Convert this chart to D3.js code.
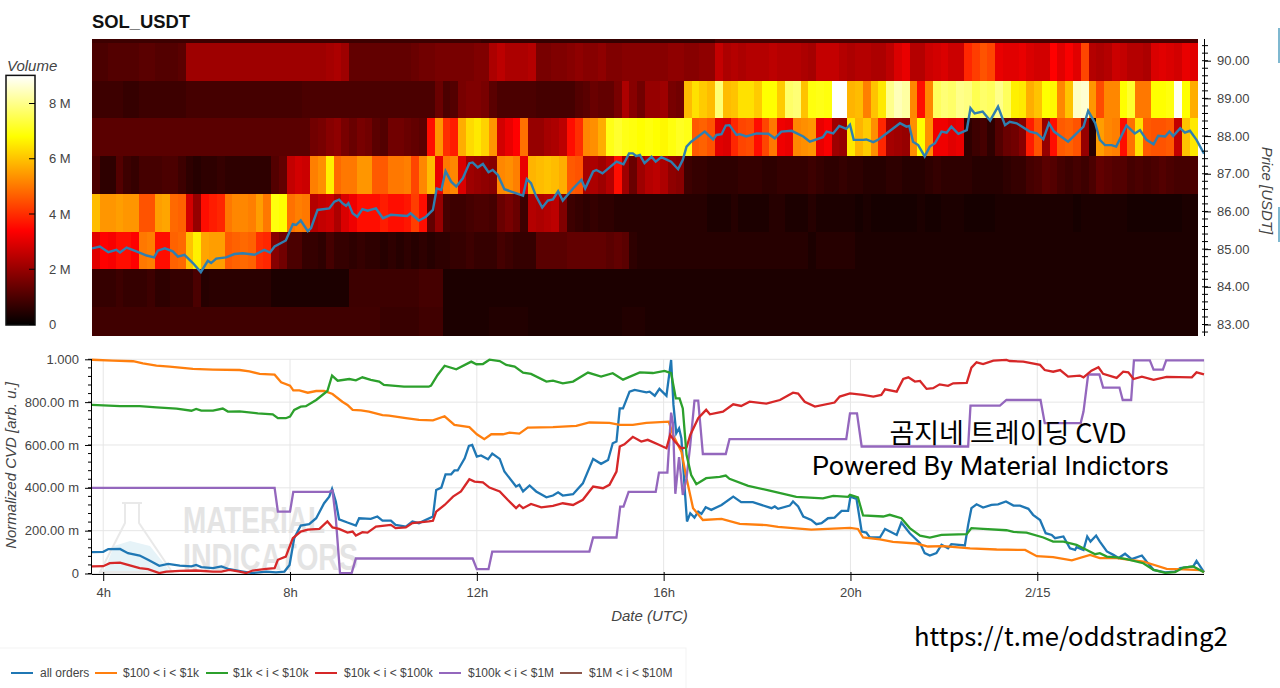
<!DOCTYPE html>
<html>
<head>
<meta charset="utf-8">
<script src="https://cdn.jsdelivr.net/npm/d3@7"></script>
<style>
  html, body { margin: 0; padding: 0; background: #fff; overflow: hidden; }
  text { font-family: "Liberation Sans", sans-serif; fill: #444; }
  .note { font-family: "Noto Sans CJK KR", sans-serif; fill: #000; }
</style>
</head>
<body>
<svg id="chart" width="1280" height="688"></svg>
<script>
// volume per 10 min column, one list per price bin [M]
const vol91 = [.8,.8,.8,.8,.8,.8,.8,.8,.8,.8,.8,.8,.8,.8,.8,.8,.8,.8,.8,.8,.8,.8,.8,.8,.8,.8,.8,.8,.8,.8,.8,.8,.8,.8,.8,.8,.8,.8,.8,.8,.8,.8,.8,.8,.8,.8,.8,.8,.8,.8,.7,.7,.7,.7,.7,.7,.7,.7,.7,.7,.7,.7,.7,.7,.7,.7,.7,.7,.7,.7,.7,.7,.7,.7,.7,.7,.7,.7,.7,.7,1,1,1,1,1,1,1,1,1,1,1,1,1,1,1,1,1,1,1,1,1,1,1,1,1,1,1,1,1,1,1,1,1,1,1,1,1,1,1,1,1,1,1,1,1,1,1,1,1,1,1,1,1,1,1,1,1,1,1,1,1,1];
const vol90 = [1.0,1.0,1.1,1.1,1.1,1.1,1.2,1.2,1.1,1.1,
  1.1,1.2,2.1,2.1,2.1,2.1,2.1,2.1,2.1,2.1,
  2.1,2.1,2.1,2.1,2.1,2.1,2.1,2.1,2.1,2.1,
  2.2,2.3,2.1,1.3,1.3,1.3,1.3,1.3,1.3,1.3,
  1.3,1.4,1.5,1.5,1.6,1.6,1.6,1.6,1.6,1.7,
  1.7,2.3,2.5,2.3,2.3,2.3,2.4,1.6,1.6,1.7,
  1.7,1.8,1.9,1.8,1.8,1.9,1.7,1.7,1.8,1.8,
  1.8,1.8,1.8,1.8,1.9,1.9,1.8,1.8,1.9,1.9,
  2.6,2.3,2.4,2.3,2.4,2.4,2.4,2.5,2.4,2.4,
  2.4,2.3,2.2,2.6,2.6,2.6,2.4,2.3,2.4,2.4,
  2.3,2.3,2.5,2.9,3.1,2.4,2.4,2.7,2.8,2.9,
  2.7,2.7,3.9,4.2,4.5,4.3,3.1,3.0,3.0,3.1,
  2.9,2.8,2.8,3.4,3.0,3.3,3.0,4.3,2.4,2.3,
  2.4,2.7,2.6,2.4,2.4,2.3,2.9,3.0,2.9,2.8,3.1,3.0];
const vol89 = [.8,.8,.8,.8,.7,.7,.8,.8,.8,.8,
  .8,.8,.9,.9,.9,.9,.9,.9,.9,.9,
  .9,.9,.9,.9,.9,.9,.9,1,1,1,
  1,1,1,1,1,1,1,1,1,1,
  1,1,1,1,1.4,1,1.1,1.6,1.7,1.7,
  1.6,1.2,1,1,1,1,1,.9,.9,.9,
  .9,.9,1.1,1.2,1.4,1.3,1.3,1.6,2.3,1.8,
  1.5,2,2,2.1,1.6,1.5,5.9,6.4,6.1,5.9,
  7.8,5.9,6,6.4,6.4,6.1,6.8,6.8,6.1,7.7,
  7.8,6,6.9,7,6.9,9,9,5.8,5.9,5.1,
  6,6.5,8,8.4,8.2,5.2,3.6,5.2,7.6,7.8,
  7.7,8,7.9,7.5,7.7,7.6,8,7.6,6.6,6.5,
  5.7,6,6.8,6.7,5.2,6,8.5,8.6,5.4,4.4,
  5.2,5.2,6.8,7.2,5,5,6.8,6.8,6.9,8.9,6.8,5.7];
const vol88 = [1.2,1.2,1.2,1.2,1.2,1.2,1.2,1.2,1.2,1.2,
  1.2,1.2,1.2,1.2,1.2,1.2,1.2,1.2,1.2,1.2,
  1.2,1.2,1.2,1.2,1.2,1.2,1.2,1.2,1.5,1.6,
  1.8,1.9,1.6,1.4,1.6,1.5,1.2,1.1,1.5,1.5,
  1.4,1.3,1.2,3.5,5.4,4,3.8,5.7,6.3,6.5,
  6.2,5.4,2.8,3.1,3.4,4.9,2,2,2.2,2.3,
  2.5,3.5,4,5.2,5.3,5.7,7,7.2,7,6.9,
  6.8,6.9,6.8,6.7,6.9,7.1,7,4.6,4.7,4.5,
  3,2.9,3.9,4.3,4.4,3.6,4.3,5,3.2,3.1,
  5.2,5.3,5.4,3.1,3.3,2.1,2,6.5,5.8,6.1,
  5.3,3.9,2.2,2.1,2,5.3,6.8,5.3,3.2,3.2,
  3,3.1,.6,.8,.9,.6,1.1,1.4,1.5,1.8,
  3.8,4.5,2,3.5,4.6,4.7,4.5,2,.5,5.5,
  5.2,5.1,3.5,4.9,6.4,4.6,4.5,4.5,4.6,2.6,6,6.5];
const vol87 = [1,.6,.6,1.1,.8,.7,.9,.9,.9,1,
  1,.8,.6,.5,.6,.6,.7,.6,.6,.6,
  .6,.6,.6,1.1,1.3,2.6,2.8,2.7,5.1,5.3,
  6.6,4.8,5,5,5.4,5.4,4.6,4.6,5,5,
  5.1,4.3,5.2,5.9,3.1,5,5.2,2.9,2.1,2,
  1.9,1.8,5.2,5.3,5.1,3.1,5.8,5.9,6,5.9,
  5.7,4.6,4.5,2.2,2.3,2.1,2.4,3.6,2.1,1.4,
  2.1,2.4,2.5,2.3,1.9,1.8,.8,.7,.7,.6,
  .6,.6,.6,.7,.7,.7,.6,.6,.7,.7,
  .7,.7,.8,.7,.6,.6,.7,.6,.6,.5,
  .5,.5,.6,.6,.5,.5,.5,.6,.7,.6,
  .6,.6,.6,.5,.5,.5,.5,.6,.7,.7,
  .9,1,1.2,1.1,.9,.8,.9,.8,1,1.3,
  1.2,1.1,1.1,.9,1,.9,1,1.1,1,.9,.9,1];
const vol86 = [5.9,5.4,5.4,5.5,5.4,5.4,4.5,4.5,5.5,5.6,
  4.8,4.7,2.8,2,3.6,3.8,3.9,5,5.2,5.2,
  5.1,5.5,5,6.9,6.8,4.9,5.1,5,2.4,2.6,
  2.7,2.3,2.9,3.2,3.5,3.6,3.5,3.8,3.6,3.5,
  3.7,4.2,3.5,1.3,2,.9,.8,.8,.9,1,
  1,.9,1.4,1.6,1.4,.8,2.4,2.3,2.4,2.5,
  1.7,.8,.7,.6,.7,.6,.6,.5,.5,.5,
  .5,.5,.5,.5,.5,.5,.5,.5,.5,.4,
  .4,.4,.5,.4,.4,.4,.4,.5,.5,.4,
  .4,.4,.5,.4,.4,.4,.4,.4,.3,.4,
  .3,.3,.3,.3,.3,.3,.4,.3,.3,.4,
  .4,.4,.3,.3,.3,.3,.4,.4,.4,.4,
  .4,.4,.4,.4,.4,.4,.3,.4,.4,.4,
  .4,.4,.4,.3,.3,.3,.3,.3,.3,.3,.4,.4];
const vol85 = [3,3.4,3.3,3.5,3.5,3.4,5,5.1,3.6,3.5,
  4.7,4.8,6,6.6,5.6,5.5,5.5,4.6,4.7,4.8,
  4.7,4,3.9,1.8,1.5,1,1,.7,.7,.6,
  .9,.7,.7,.6,.7,.6,.6,.5,.6,.5,
  .6,.5,.6,.5,.6,.6,.7,.7,.8,.7,
  .7,.7,.9,.8,.7,.7,.7,1.2,1.2,1.2,
  1.2,1.3,1.3,1.3,1.3,1.3,1.2,1.3,1.2,.6,
  .5,.5,.5,.5,.5,.5,.5,.5,.5,.5,
  .5,.5,.5,.5,.5,.5,.5,.5,.5,.5,
  .5,.5,.4,.5,.5,.5,.5,.5,.4,.4,
  .4,.4,.4,.4,.4,.4,.4,.4,.4,.4,
  .4,.4,.4,.4,.4,.4,.4,.4,.4,.4,
  .4,.4,.4,.4,.4,.4,.4,.4,.4,.4,
  .4,.4,.4,.4,.4,.4,.4,.4,.4,.4,.4,.4];
const vol84 = [.7,.7,.7,.8,.7,.7,.7,.8,.6,.6,
  .7,.7,.7,1,.5,.55,.55,.55,.55,.55,
  .55,.55,.55,.35,.35,.35,.35,.35,.35,.35,
  .35,.35,.35,.8,.8,.8,.8,.8,.8,.8,
  .8,.8,.9,.9,.9,.4,.4,.4,.4,.4,
  .4,.4,.4,.4,.4,.4,.4,.4,.4,.4,
  .4,.4,.4,.4,.4,.4,.4,.4,.4,.4,
  .4,.4,.4,.4,.4,.4,.4,.4,.4,.4,
  .4,.4,.4,.4,.4,.4,.4,.4,.4,.4,
  .4,.4,.4,.4,.4,.4,.4,.4,.4,.4,
  .4,.4,.4,.4,.4,.4,.4,.4,.4,.4,
  .4,.4,.4,.4,.4,.4,.4,.4,.4,.4,
  .4,.4,.4,.4,.4,.4,.4,.4,.4,.4,
  .4,.4,.4,.4,.4,.4,.4,.4,.4,.4,.4,.4];
const vol83 = [.85,.85,.85,.85,.85,.85,.85,.85,.85,.85,
  .85,.85,.85,.85,.85,.85,.85,.85,.85,.85,
  .85,.85,.85,.85,.85,.85,.85,.85,.85,.85,
  .85,.85,.85,.85,.85,.85,.85,.75,.75,.75,
  .75,.75,.85,.85,.85,.4,.4,.4,.4,.4,
  .4,.45,.45,.45,.45,.45,.4,.4,.4,.4,
  .4,.4,.4,.4,.4,.4,.4,.4,.45,.45,
  .45,.4,.4,.4,.4,.4,.4,.4,.4,.4,
  .4,.4,.4,.4,.4,.4,.4,.4,.4,.4,
  .4,.4,.4,.4,.4,.35,.35,.35,.35,.35,
  .35,.35,.35,.35,.35,.35,.35,.35,.35,.35,
  .35,.35,.35,.35,.35,.35,.35,.35,.35,.35,
  .35,.35,.35,.35,.35,.35,.35,.35,.35,.35,
  .35,.35,.35,.35,.35,.35,.35,.35,.35,.35,.35,.35];
const volRows = [vol83, vol84, vol85, vol86, vol87, vol88, vol89, vol90, vol91];
const binFloors = [82.48, 83.48, 84.48, 85.48, 86.48, 87.48, 88.48, 89.48, 90.48];

// price line: hours since 2/14 00:00 and USDT
const priceHours = [3.76,3.93,4.11,4.28,4.36,4.5,4.71,4.93,5.09,5.17,5.32,5.49,5.6,5.74,5.92,6.09,6.24,6.31,6.42,6.63,6.81,6.99,7.24,7.45,7.57,7.67,7.91,8.06,8.13,8.23,8.38,8.45,8.59,8.84,8.95,9.05,9.12,9.2,9.25,9.34,9.44,9.55,9.66,9.84,9.99,10.16,10.51,10.58,10.76,10.91,11.06,11.14,11.24,11.33,11.45,11.56,11.7,11.84,11.91,12.02,12.13,12.25,12.34,12.45,12.59,12.99,13.07,13.16,13.27,13.4,13.52,13.63,13.74,13.84,14.06,14.24,14.32,14.49,14.56,14.69,14.99,15.14,15.26,15.34,15.41,15.49,15.59,15.74,15.83,15.95,16.16,16.31,16.41,16.49,16.59,16.88,17.06,17.13,17.24,17.33,17.41,17.56,17.63,17.77,17.99,18.24,18.38,18.52,18.74,18.99,19.13,19.41,19.49,19.63,19.76,19.91,19.99,20.07,20.27,20.34,20.49,20.59,20.77,21.06,21.2,21.26,21.34,21.45,21.59,21.7,21.81,21.95,22.06,22.16,22.31,22.49,22.57,22.66,22.83,22.99,23.16,23.31,23.41,23.56,23.84,23.99,24.13,24.25,24.36,24.66,24.99,25.09,25.24,25.34,25.45,25.59,25.69,25.91,26.09,26.2,26.34,26.49,26.59,26.74,26.83,26.91,27.06,27.16,27.27,27.41,27.57];
const priceValues = [85.02,85.07,84.92,84.98,84.91,85.04,84.94,84.83,84.78,84.96,85.02,84.94,84.8,84.85,84.63,84.39,84.69,84.63,84.75,84.78,84.87,84.89,84.85,84.98,84.91,85.07,85.23,85.66,85.64,85.76,85.48,85.56,86.04,86.08,86.26,86.31,86.22,86.15,86.22,85.95,85.86,86.06,86.02,86.08,85.82,85.91,85.88,85.95,85.76,85.86,86.04,86.61,86.57,87.07,86.79,86.66,86.88,87.28,87.3,87.17,87.26,87.04,87.1,86.97,86.59,86.42,86.86,86.75,86.4,86.1,86.29,86.32,86.54,86.29,86.61,86.84,86.61,87.06,87.1,87.01,87.32,87.25,87.54,87.54,87.47,87.5,87.28,87.45,87.32,87.44,87.32,87.12,87.37,87.72,87.85,88.12,87.91,88.03,88.05,88.28,88.29,88.03,88.05,87.99,88.07,88.06,87.94,88.12,88.14,87.99,87.85,87.97,88.12,88.07,88.27,88.19,88.3,87.9,87.9,87.91,87.84,87.9,88.07,88.34,88.25,88.27,87.85,87.76,87.46,87.72,87.81,88.12,88.09,88.25,88.06,88.16,88.74,88.6,88.65,88.41,88.78,88.29,88.38,88.34,88.12,88.07,87.92,88.34,88.12,87.85,88.25,88.67,88.34,87.9,87.76,87.76,87.72,88.28,88.07,88.16,87.9,87.78,88.01,87.99,88.12,88,88.21,88.09,88.14,87.9,87.53];

// normalized CVD lines
const allHours = [3.75,4,4.11,4.36,4.53,4.78,4.96,5.2,5.39,5.64,5.89,5.99,6.1,6.35,6.53,6.7,6.99,7.2,7.49,7.7,7.88,7.99,8.09,8.23,8.41,8.56,8.73,8.84,8.9,8.98,9.05,9.23,9.41,9.48,9.73,9.87,9.98,10.16,10.26,10.48,10.62,10.76,11.06,11.13,11.24,11.33,11.45,11.52,11.59,11.74,11.83,11.9,12,12.09,12.24,12.33,12.49,12.59,12.84,12.91,12.99,13.13,13.27,13.49,13.63,13.74,13.84,14.06,14.27,14.49,14.66,14.81,14.91,14.99,15.06,15.13,15.27,15.38,15.63,15.7,15.81,15.91,16.06,16.16,16.21,16.27,16.33,16.38,16.45,16.5,16.57,16.66,16.74,16.81,16.9,17.02,17.24,17.49,17.66,17.91,18.31,18.38,18.45,18.7,18.77,18.88,18.99,19.16,19.27,19.38,19.52,19.66,19.81,19.95,20,20.13,20.24,20.34,20.41,20.63,20.74,20.99,21.09,21.27,21.49,21.59,21.7,21.84,21.95,22.09,22.16,22.45,22.52,22.59,22.7,22.84,23.02,23.16,23.33,23.49,23.63,23.81,23.91,24.06,24.18,24.31,24.38,24.56,24.7,24.81,24.84,24.99,25.07,25.14,25.26,25.34,25.49,25.63,25.74,25.88,26.02,26.24,26.34,26.49,26.74,26.95,27.06,27.34,27.41,27.57];
const allCvd = [.1,.101,.114,.115,.095,.084,.064,.036,.045,.037,.033,.04,.03,.025,.033,.02,.009,.002,.009,.005,.009,.04,.165,.224,.23,.258,.328,.359,.395,.336,.253,.238,.224,.258,.255,.266,.247,.247,.227,.219,.243,.235,.266,.39,.401,.463,.463,.481,.481,.538,.596,.6,.546,.551,.533,.56,.535,.476,.406,.414,.383,.411,.383,.356,.364,.379,.364,.37,.421,.535,.512,.53,.608,.616,.771,.771,.849,.857,.846,.849,.83,.862,.83,.997,.787,.655,.678,.631,.398,.243,.281,.261,.289,.278,.309,.297,.32,.359,.333,.333,.305,.313,.302,.317,.336,.313,.266,.25,.23,.235,.258,.261,.292,.292,.359,.348,.196,.191,.17,.168,.208,.18,.238,.188,.142,.095,.084,.095,.134,.118,.137,.131,.227,.305,.323,.308,.32,.323,.336,.317,.317,.302,.274,.25,.188,.18,.165,.173,.118,.11,.123,.11,.173,.149,.177,.149,.103,.087,.072,.092,.067,.084,.056,.017,.005,.009,.025,.033,.059,.006];
const orangeHours = [3.75,4.21,4.64,4.85,5.14,5.42,5.92,6.35,6.92,7.13,7.35,7.67,7.81,8,8.07,8.2,8.38,8.56,8.73,8.91,9.12,9.23,9.34,9.52,9.69,9.98,10.12,10.48,10.76,11.06,11.31,11.52,11.84,12,12.16,12.31,12.56,12.7,12.91,13.09,13.63,14.13,14.41,14.84,15.06,15.34,15.63,16.11,16.2,16.38,16.49,16.63,16.84,17.24,17.63,18.2,18.45,19.16,19.99,20.16,20.27,20.63,20.91,21.41,21.66,21.99,22.56,23.13,23.74,23.99,24.34,24.74,25.13,25.34,25.7,26.27,26.77,27.13,27.49,27.57];
const orangeCvd = [.998,.994,.991,.981,.97,.966,.955,.952,.95,.944,.932,.928,.893,.877,.855,.855,.844,.852,.852,.838,.802,.787,.764,.762,.756,.739,.737,.725,.717,.715,.734,.694,.683,.65,.627,.65,.65,.658,.653,.681,.683,.689,.705,.703,.694,.694,.703,.709,.647,.569,.445,.305,.25,.255,.232,.226,.218,.205,.213,.208,.168,.159,.148,.14,.126,.128,.117,.112,.11,.081,.076,.061,.087,.072,.072,.056,.022,.019,.016,.006];
const greenHours = [3.75,4,4.36,4.78,5.14,5.57,5.89,5.99,6.1,6.35,6.56,6.67,6.92,7.31,7.63,7.74,7.91,8,8.09,8.23,8.34,8.56,8.8,8.9,9.02,9.27,9.41,9.55,9.73,9.91,10.01,10.44,10.97,11.02,11.16,11.31,11.56,11.88,11.99,12.13,12.27,12.49,12.63,12.81,12.99,13.16,13.49,13.63,13.84,14.06,14.38,14.66,14.91,15.13,15.49,15.77,16.02,16.16,16.26,16.34,16.41,16.49,16.59,16.7,16.91,17.2,17.33,17.41,17.81,18.27,18.84,19.41,19.63,19.95,19.99,20.16,20.27,20.7,20.84,21.09,21.27,21.49,21.7,21.95,22.49,22.59,22.84,23.34,23.49,23.77,24.13,24.34,24.56,24.84,25.24,25.34,25.49,25.7,25.91,26.27,26.49,26.74,26.95,27.13,27.34,27.57];
const greenCvd = [.787,.785,.781,.781,.776,.77,.76,.768,.76,.76,.77,.756,.757,.748,.743,.725,.725,.733,.764,.779,.781,.81,.852,.924,.9,.908,.902,.916,.904,.896,.88,.872,.872,.877,.927,.97,.953,.989,.977,.978,.998,.992,.974,.966,.938,.932,.896,.9,.888,.896,.938,.919,.935,.905,.939,.936,.946,.935,.818,.818,.771,.554,.46,.417,.445,.451,.457,.442,.409,.387,.358,.351,.362,.358,.367,.355,.271,.266,.274,.258,.212,.177,.168,.18,.184,.212,.208,.202,.194,.191,.168,.149,.149,.134,.09,.095,.079,.075,.067,.048,.017,.003,.006,.028,.033,.006];
const redHours = [3.75,4,4.14,4.36,4.53,4.78,4.96,5.2,5.35,5.64,5.99,6.35,6.53,6.7,6.92,7.06,7.2,7.49,7.67,7.74,7.91,8.06,8.23,8.38,8.63,8.8,8.91,9.05,9.23,9.34,9.41,9.55,9.66,9.84,10.16,10.26,10.48,10.62,10.97,11.06,11.13,11.31,11.49,11.66,11.84,11.95,12.13,12.27,12.49,12.66,12.84,12.91,12.99,13.16,13.38,13.63,13.84,14.06,14.27,14.49,14.7,14.84,14.99,15.06,15.16,15.34,15.52,15.66,15.91,16.06,16.14,16.24,16.38,16.49,16.57,16.74,16.91,16.99,17.27,17.49,17.66,17.84,18.2,18.49,18.77,18.88,19.02,19.24,19.66,19.77,19.99,20.27,20.49,20.66,20.74,20.99,21.13,21.24,21.38,21.49,21.63,21.77,21.91,22.09,22.2,22.49,22.59,22.7,22.84,23.06,23.34,23.41,23.7,24.06,24.16,24.34,24.49,24.66,24.91,24.99,25.16,25.31,25.41,25.7,25.84,25.95,26.06,26.24,26.49,26.77,27.31,27.41,27.57];
const redCvd = [.033,.034,.048,.051,.04,.025,.02,.002,.009,.012,.014,.009,.009,.017,.009,.002,.014,.022,.025,.064,.079,.165,.196,.205,.208,.243,.215,.208,.191,.196,.177,.193,.191,.219,.227,.212,.215,.235,.243,.246,.289,.32,.359,.383,.44,.429,.426,.401,.383,.344,.305,.32,.305,.325,.309,.316,.328,.32,.344,.406,.398,.414,.476,.593,.603,.638,.616,.624,.6,.585,.647,.616,.585,.588,.647,.725,.764,.743,.756,.79,.782,.802,.793,.81,.844,.84,.802,.779,.798,.826,.841,.834,.826,.834,.86,.849,.908,.916,.896,.899,.862,.865,.883,.876,.888,.89,.961,.986,.978,.994,.997,.992,.989,.974,.95,.942,.95,.919,.924,.916,.947,.963,.932,.913,.942,.939,.908,.919,.904,.918,.916,.939,.93];
const purpleHours = [3.75,7.67,7.74,8,8.07,8.84,8.91,8.98,9.07,9.32,9.41,11.91,12,12.25,12.33,14.41,14.49,14.99,15.07,15.14,15.25,15.83,15.9,16.08,16.16,16.2,16.25,16.33,16.41,16.49,16.57,16.66,16.74,16.84,17.33,17.41,19.91,19.99,20.14,20.24,22.52,22.57,23.2,23.34,24.07,24.16,24.93,24.99,25.09,25.33,25.41,25.76,25.83,26.01,26.07,26.41,26.49,26.69,26.76,27.57];
const purpleCvd = [.4,.4,.289,.289,.381,.381,.387,.258,.002,.002,.07,.07,.02,.02,.102,.102,.168,.168,.312,.312,.381,.381,.471,.471,.751,.701,.372,.543,.367,.445,.6,.807,.807,.558,.558,.627,.627,.748,.748,.593,.593,.784,.784,.81,.81,.702,.702,.756,.929,.929,.868,.868,.81,.81,.995,.995,.952,.952,.995,.995];

const seriesNames = ['all orders', '$100 < i < $1k', '$1k < i < $10k', '$10k < i < $100k', '$100k < i < $1M', '$1M < i < $10M'];
const seriesColors = ['#1f77b4', '#ff7f0e', '#2ca02c', '#d62728', '#9467bd', '#8c564b'];
const cvdLines = [
  [allHours, allCvd, 0],
  [orangeHours, orangeCvd, 1],
  [purpleHours, purpleCvd, 4],
  [redHours, redCvd, 3],
  [greenHours, greenCvd, 2],
];

const hourTicks = [4, 8, 12, 16, 20, 24];
const hourLabels = ['4h', '8h', '12h', '16h', '20h', '2/15'];
const priceTicks = [83, 84, 85, 86, 87, 88, 89, 90];
const cvdTicks = [0, .2, .4, .6, .8, 1];
const cvdLabels = ['0', '200.00 m', '400.00 m', '600.00 m', '800.00 m', '1.000'];
const volTicks = [0, 2, 4, 6, 8];
const hotStops = [0, 3.4, 6.8, 9];
const hotColors = ['#000000', '#ff0000', '#ffff00', '#ffffff'];

const svg = d3.select('#chart');
const left = 92, right = 1204;

const x = d3.scaleLinear().domain([3.76, 27.57]).range([left, right]);
const yPrice = d3.scaleLinear().domain([90, 83]).range([60.7, 324.5]);
const yCvd = d3.scaleLinear().domain([0, 1]).range([573.5, 359.3]);
const yVol = d3.scaleLinear().domain([0, 8]).range([324, 103]);
const hot = d3.scaleLinear().domain(hotStops).range(hotColors).clamp(true);

const defs = svg.append('defs');
defs.append('clipPath').attr('id', 'top-clip').append('rect')
  .attr('x', left).attr('y', 39).attr('width', right - left).attr('height', 297);
defs.append('clipPath').attr('id', 'low-clip').append('rect')
  .attr('x', left).attr('y', 358).attr('width', right - left + 2).attr('height', 217);
defs.append('filter').attr('id', 'soft').attr('x', '-2%').attr('y', '-2%').attr('width', '104%').attr('height', '104%')
  .append('feGaussianBlur').attr('stdDeviation', .5);

// heatmap
const colStart = 3.765, colStep = 1 / 6;
const heat = svg.append('g').attr('clip-path', 'url(#top-clip)');
const cells = heat.append('g').attr('filter', 'url(#soft)').attr('shape-rendering', 'crispEdges');
volRows.forEach((row, r) => {
  cells.append('g').selectAll('rect').data(row).join('rect')
    .attr('x', (d, i) => x(colStart + i * colStep))
    .attr('width', x(colStart + colStep) - x(colStart) + .5)
    .attr('y', yPrice(binFloors[r] + 1))
    .attr('height', yPrice(binFloors[r]) - yPrice(binFloors[r] + 1) + .5)
    .attr('fill', d => hot(d));
});
heat.append('path')
  .datum(d3.zip(priceHours, priceValues))
  .attr('fill', 'none').attr('stroke', '#2f7fb0').attr('stroke-width', 2.4)
  .attr('d', d3.line().x(d => x(d[0])).y(d => yPrice(d[1])));

svg.append('text').text('SOL_USDT')
  .attr('x', 92).attr('y', 28).style('font-size', '18.4px').style('font-weight', 'bold').style('fill', '#111');

// price axis
const priceAxis = svg.append('g').attr('transform', `translate(${right},0)`)
  .call(d3.axisRight(yPrice).tickValues(priceTicks).tickFormat(d3.format('.2f')).tickSize(7).tickPadding(6));
priceAxis.select('.domain').attr('d', 'M0.5,39V336').attr('stroke', '#000');
priceAxis.selectAll('text').style('font-size', '13px');
const priceMinor = d3.range(83, 90.6, .2).concat([82.8]);
svg.append('g').selectAll('line').data(priceMinor).join('line')
  .attr('x1', right - 2).attr('x2', right + 4)
  .attr('y1', d => yPrice(d)).attr('y2', d => yPrice(d))
  .attr('stroke', '#000');
svg.append('text').text('Price [USDT]')
  .attr('transform', 'translate(1262,190.5) rotate(90)')
  .attr('text-anchor', 'middle').style('font-size', '15px').style('font-style', 'italic');

// colorbar
const grad = defs.append('linearGradient').attr('id', 'vol-grad')
  .attr('x1', 0).attr('y1', 1).attr('x2', 0).attr('y2', 0);
grad.selectAll('stop').data(hotStops).join('stop')
  .attr('offset', d => (yVol(0) - yVol(d)) / (yVol(0) - yVol(9)))
  .attr('stop-color', d => hot(d));
svg.append('rect').attr('x', 6).attr('y', yVol(9)).attr('width', 29).attr('height', yVol(0) - yVol(9) + 1)
  .attr('fill', 'url(#vol-grad)').attr('stroke', '#111').attr('stroke-width', 1.5);
svg.append('text').text('Volume').attr('x', 7).attr('y', 71).style('font-size', '15px').style('font-style', 'italic');
const volAxis = svg.append('g').attr('transform', 'translate(35,0)')
  .call(d3.axisLeft(yVol).tickValues(volTicks).tickSize(6).tickFormat(''));
volAxis.select('.domain').remove();
svg.append('g').selectAll('text').data(volTicks).join('text')
  .text(d => d ? d + ' M' : '0')
  .attr('x', 49).attr('y', d => yVol(d) + 5).style('font-size', '13px');

// lower panel grid
const grid = svg.append('g').attr('stroke', '#e6e6e6');
grid.selectAll('.gy').data(cvdTicks).join('line').attr('class', 'gy')
  .attr('x1', left).attr('x2', right).attr('y1', d => yCvd(d)).attr('y2', d => yCvd(d));
grid.selectAll('.gx').data(hourTicks).join('line').attr('class', 'gx')
  .attr('x1', d => x(d)).attr('x2', d => x(d)).attr('y1', 359).attr('y2', 574);
grid.append('line').attr('x1', right).attr('x2', right).attr('y1', 359).attr('y2', 574);

// watermark
const mark = svg.append('g');
mark.append('path')
  .attr('d', 'M106,566 L114,546 L130,541 L150,546 L166,566 L170,572 H103 Z')
  .attr('fill', '#e6f3f8');
mark.append('path')
  .attr('d', 'M122,503 H142 M125,503 V523 L100,572 H172 L139,523 V503')
  .attr('fill', 'none').attr('stroke', '#e9e9e9').attr('stroke-width', 2);
const wmFont = '"Liberation Sans Narrow", "Liberation Sans", sans-serif';
mark.append('text').text('MATERIAL').attr('x', 183).attr('y', 533)
  .attr('textLength', 142).attr('lengthAdjust', 'spacingAndGlyphs')
  .style('font-family', wmFont).style('font-size', '37px').style('font-weight', 'bold').style('fill', '#e4e4e4');
mark.append('text').text('INDICATORS').attr('x', 183).attr('y', 570)
  .attr('textLength', 175).attr('lengthAdjust', 'spacingAndGlyphs')
  .style('font-family', wmFont).style('font-size', '37px').style('font-weight', 'bold').style('fill', '#e4e4e4');

// cvd lines
const cvdLine = d3.line().x(d => x(d[0])).y(d => yCvd(d[1]));
svg.append('g').attr('clip-path', 'url(#low-clip)')
  .selectAll('path').data(cvdLines).join('path')
  .attr('fill', 'none').attr('stroke-width', 2.3)
  .attr('stroke', d => seriesColors[d[2]])
  .attr('d', d => cvdLine(d3.zip(d[0], d[1])));

// lower axes
const cvdAxis = svg.append('g').attr('transform', `translate(${left},0)`)
  .call(d3.axisLeft(yCvd).tickValues(cvdTicks).tickFormat((d, i) => cvdLabels[i]).tickSize(7).tickPadding(6));
cvdAxis.select('.domain').attr('d', 'M-0.5,359V574').attr('stroke', '#000');
cvdAxis.selectAll('text').style('font-size', '13px');
svg.append('g').selectAll('line').data(d3.range(0, 1.001, .04)).join('line')
  .attr('x1', left - 4).attr('x2', left)
  .attr('y1', d => yCvd(d)).attr('y2', d => yCvd(d)).attr('stroke', '#000');
const hourAxis = svg.append('g').attr('transform', 'translate(0,574)')
  .call(d3.axisBottom(x).tickValues(hourTicks).tickFormat((d, i) => hourLabels[i]).tickSize(7).tickPadding(7));
hourAxis.select('.domain').attr('d', `M${left},0.5H${right}`).attr('stroke', '#000');
hourAxis.selectAll('text').style('font-size', '13px');
hourAxis.selectAll('.tick line').attr('y1', -2);

svg.append('text').text('Normalized CVD [arb. u.]')
  .attr('transform', 'translate(16,465.5) rotate(-90)')
  .attr('text-anchor', 'middle').style('font-size', '15px').style('font-style', 'italic');
svg.append('text').text('Date (UTC)')
  .attr('x', 649.5).attr('y', 621).attr('text-anchor', 'middle').style('font-size', '15px').style('font-style', 'italic');

// pasted captions
svg.append('text').attr('class', 'note').text('곰지네 트레이딩 CVD')
  .attr('x', 1008).attr('y', 443).attr('text-anchor', 'middle').style('font-size', '27px');
svg.append('text').attr('class', 'note').text('Powered By Material Indictors')
  .attr('x', 812).attr('y', 475).attr('textLength', 357).attr('lengthAdjust', 'spacingAndGlyphs')
  .style('font-family', 'Roboto, sans-serif').style('font-size', '26px');
svg.append('text').attr('class', 'note').text('https://t.me/oddstrading2')
  .attr('x', 914).attr('y', 646).style('font-size', '25.7px');

// legend
svg.append('rect').attr('x', -1).attr('y', 648).attr('width', 687).attr('height', 42)
  .attr('fill', '#fff').attr('stroke', '#f3f3f3');
const legendSwatch = [11, 95, 206, 315, 439, 560];
const legendText = [40, 123, 233, 344, 468, 589];
const legend = svg.append('g').selectAll('g').data(seriesNames).join('g');
legend.append('line')
  .attr('x1', (d, i) => legendSwatch[i]).attr('x2', (d, i) => legendSwatch[i] + 22)
  .attr('y1', 673).attr('y2', 673).attr('stroke-width', 2)
  .attr('stroke', (d, i) => seriesColors[i]);
legend.append('text').text(d => d)
  .attr('x', (d, i) => legendText[i]).attr('y', 677).style('font-size', '12px');

// slivers of the next panel at the right edge
svg.append('g').selectAll('rect').data([28, 207]).join('rect')
  .attr('x', 1278).attr('y', d => d).attr('width', 2).attr('height', 35).attr('fill', '#7fb8d0');
</script>
</body>
</html>
